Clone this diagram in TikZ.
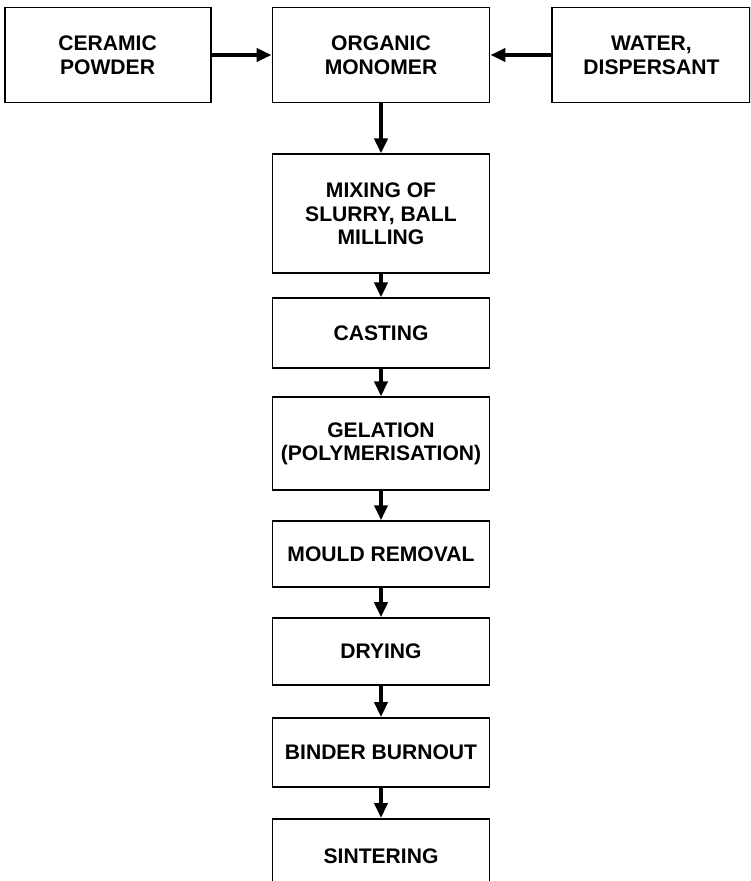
\documentclass[tikz,border=0pt]{standalone}
\usepackage{fontspec}
\setmainfont{Liberation Sans}
\usepackage{tikz}
\usetikzlibrary{arrows.meta, positioning}

\begin{document}
\begin{tikzpicture}[
    stage/.style={rectangle, draw=black, line width=1.1pt, minimum width=4.34cm, align=center, font=\fontsize{12}{13.5}\selectfont\bfseries, inner sep=2pt},
    feed/.style={stage, minimum height=1.9cm},
    arrow/.style={-{Triangle[width=0.26cm,length=0.3cm]}, line width=2.3pt, draw=black}
]
\clip (0,0) rectangle (15,-17.62);

% Top Row: Starting Materials
\node[feed] (monomer) at (7.62,-1.10) {ORGANIC\\MONOMER};
\node[feed, minimum width=4.12cm, left=1.2cm of monomer] (ceramic) {CERAMIC\\POWDER};
\node[feed, minimum width=3.96cm, right=1.22cm of monomer] (water) {WATER,\\DISPERSANT};

% Center Column: Process Steps
\node[stage, minimum height=2.38cm, below=1.0cm of monomer] (mixing) {MIXING OF\\SLURRY, BALL\\MILLING};
\node[stage, minimum height=1.4cm, below=0.46cm of mixing] (casting) {CASTING};
\node[stage, minimum height=1.86cm, below=0.54cm of casting] (gelation) {GELATION\\(POLYMERISATION)};
\node[stage, minimum height=1.32cm, below=0.58cm of gelation] (mould) {MOULD REMOVAL};
\node[stage, minimum height=1.34cm, below=0.58cm of mould] (drying) {DRYING};
\node[stage, minimum height=1.38cm, below=0.62cm of drying] (burnout) {BINDER BURNOUT};
\node[stage, minimum height=1.48cm, below=0.60cm of burnout] (sintering) {SINTERING};

% Feeds into Monomer
\draw[arrow] (ceramic) -- (monomer);
\draw[arrow] (water) -- (monomer);

% Vertical Main Flow
\draw[arrow] (monomer) -- (mixing);
\draw[arrow] (mixing) -- (casting);
\draw[arrow] (casting) -- (gelation);
\draw[arrow] (gelation) -- (mould);
\draw[arrow] (mould) -- (drying);
\draw[arrow] (drying) -- (burnout);
\draw[arrow] (burnout) -- (sintering);

\end{tikzpicture}
\end{document}
